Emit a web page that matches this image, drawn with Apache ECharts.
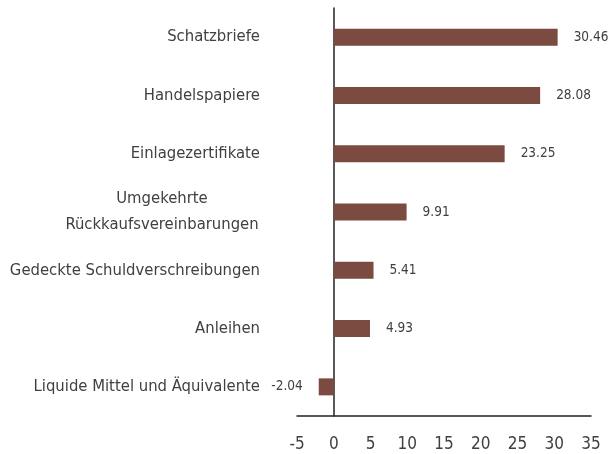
<!DOCTYPE html>
<html lang="de">
<head>
  <meta charset="UTF-8">
  <title>Anlagen</title>
</head>
<body style="margin:0">
<div id="chart" style="width:615px;height:454px"></div>
<script src="https://cdn.jsdelivr.net/npm/echarts@6/dist/echarts.min.js"></script>
<script>
const categories = ['Schatzbriefe', 'Handelspapiere', 'Einlagezertifikate', 'Umgekehrte\nRückkaufsvereinbarungen',
  'Gedeckte Schuldverschreibungen', 'Anleihen', 'Liquide Mittel und Äquivalente'];
const values = [30.46, 28.08, 23.25, 9.91, 5.41, 4.93, -2.04];
const xTicks = { min: -5, max: 35, interval: 5 };

const font = "'DejaVu Sans Condensed', 'Liberation Sans Narrow', sans-serif";
const textColor = '#404040';
const catSize = 16.5;

// breite der längsten zeile messen, damit mehrzeilige labels zentriert werden
const ctx = document.createElement('canvas').getContext('2d');
ctx.font = catSize + 'px ' + font;
function lineWidth(s) { return Math.ceil(ctx.measureText(s).width) + 2; }

let myChart = echarts.init(document.getElementById('chart'));
myChart.setOption({
  animation: false,
  grid: { left: 297, right: 24, top: 8, bottom: 38, containLabel: false, outerBoundsMode: 'none' },
  xAxis: {
    type: 'value',
    min: xTicks.min,
    max: xTicks.max,
    interval: xTicks.interval,
    splitLine: { show: false },
    axisTick: { show: false },
    axisLine: { show: true, lineStyle: { color: '#222', width: 1.5 } },
    axisLabel: { color: textColor, fontSize: 17, fontFamily: font, margin: 20 }
  },
  yAxis: {
    type: 'category',
    inverse: true,
    data: categories,
    axisTick: { show: false },
    axisLine: { show: true, onZero: true, lineStyle: { color: '#222', width: 1.5 } },
    axisLabel: {
      color: textColor, fontSize: catSize, fontFamily: font, margin: 37, lineHeight: 26,
      formatter: function (v) {
        if (v.indexOf('\n') < 0) return v;
        const lines = v.split('\n');
        return lines.map(s => '{c|' + s + '}').join('\n');
      },
      rich: {
        c: {
          width: Math.max(...categories.flatMap(c => c.indexOf('\n') < 0 ? [] : c.split('\n')).map(lineWidth)),
          align: 'center', fontSize: catSize, fontFamily: font, color: textColor, lineHeight: 26
        }
      }
    }
  },
  series: [{
    type: 'bar',
    data: values.map(v => ({
      value: v,
      label: { position: v < 0 ? 'left' : 'right' }
    })),
    barWidth: 17,
    itemStyle: { color: '#7b4a40' },
    label: {
      show: true,
      distance: 16,
      color: textColor,
      fontSize: 13.5,
      fontFamily: font,
      formatter: p => p.value.toFixed(2)
    }
  }]
});
</script>
</body>
</html>
